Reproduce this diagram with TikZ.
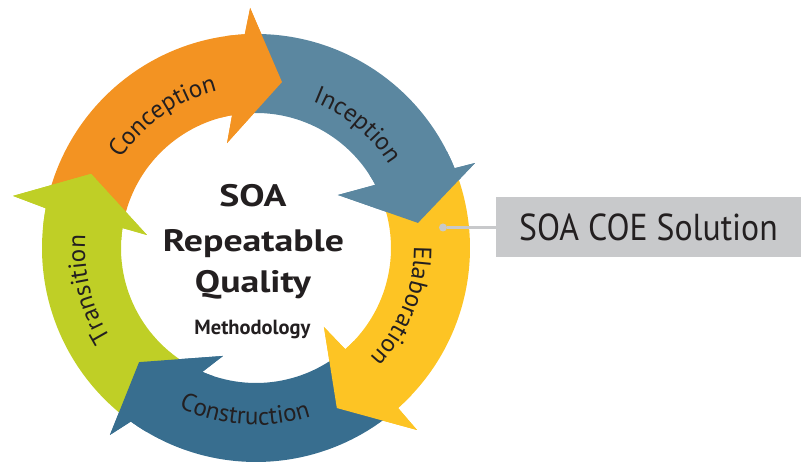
\documentclass[tikz,border=0pt]{standalone}
\usepackage{fontspec}
\setmainfont{PT Sans}
\newfontfamily\titlefont{PT Sans}[FakeStretch=1.22]
\newfontfamily\boxfont{PT Sans}[FakeStretch=0.9]
\usetikzlibrary{decorations.text}

\definecolor{conorange}{RGB}{243,147,34}
\definecolor{incblue}{RGB}{91,135,160}
\definecolor{elabyellow}{RGB}{253,196,36}
\definecolor{consblue}{RGB}{56,110,143}
\definecolor{transgreen}{RGB}{191,207,38}
\definecolor{boxgray}{RGB}{200,201,203}
\definecolor{inkgray}{RGB}{35,31,32}

\newcommand{\arcfont}{\fontsize{25}{25}\selectfont}
\def\phaselist{conorange/169.3/171.5/93.0/100.2/91.4/240.1/81.1/168.0/105.4/108.9,
  incblue/93.0/100.2/21.9/27.9/21.2/234.9/8.8/163.9/32.9/97.6,
  elabyellow/21.9/27.9/-48.4/-48.6/-48.5/243.0/-63.2/179.3/-49.3/104.2,
  consblue/-48.4/-48.6/-125.8/-113.4/-128.0/237.2/-135.7/163.4/-107.0/112.9,
  transgreen/-125.8/-113.4/-190.7/-188.5/-192.1/248.5/-204.2/180.8/-186.8/109.8}

\begin{document}
\begin{tikzpicture}[x=1pt, y=1pt,
  title/.style={font=\titlefont\bfseries\fontsize{31}{31}\selectfont, text=inkgray, anchor=base, inner sep=0},
  arctext/.style={decorate, decoration={text along path, text align=center, text color=inkgray}},
  coebox/.style={fill=boxgray, minimum width=305, minimum height=60, inner sep=0,
    font=\boxfont\fontsize{37.5}{37.5}\selectfont, text=inkgray},
  pin/.style={circle, fill=boxgray, minimum size=8, inner sep=0},
  leader/.style={boxgray, line width=2.5}]
\useasboundingbox (-256,-214) rectangle (545,248);

\foreach \col/\so/\si/\oj/\ij/\ob/\obr/\tp/\tpr/\ib/\ibr in \phaselist
  \fill[\col] (\so:214) arc[start angle=\so, end angle=\oj, radius=214]
    -- (\ob:\obr) -- (\tp:\tpr) -- (\ib:\ibr) -- (\ij:135)
    arc[start angle=\ij, end angle=\si, radius=135] -- cycle;
\foreach \col/\so/\si/\oj/\ij/\ob/\obr/\tp/\tpr/\ib/\ibr
  [evaluate=\oj as \ojb using \oj+5, evaluate=\ij as \ijb using \ij+5] in \phaselist
  \fill[\col] (\ojb:214) arc[start angle=\ojb, end angle=\oj, radius=214]
    -- (\ob:\obr) -- (\tp:\tpr) -- (\ib:\ibr) -- (\ij:135)
    arc[start angle=\ij, end angle=\ijb, radius=135] -- cycle;

\path[arctext, decoration={text={|\arcfont|Conception}}]
  (175.2:162) arc[start angle=175.2, end angle=75.2, radius=162];
\path[arctext, decoration={text={|\arcfont|Inception}}]
  (100.5:157) arc[start angle=100.5, end angle=0.5, radius=157];
\path[arctext, decoration={text={|\arcfont|Elaboration}}]
  (28.3:158) arc[start angle=28.3, end angle=-71.7, radius=158];
\path[arctext, decoration={text={|\arcfont|Construction}}]
  (-143.9:177) arc[start angle=-143.9, end angle=-43.9, radius=177];
\path[arctext, decoration={text={|\arcfont|Transition}}]
  (243.8:171) arc[start angle=243.8, end angle=143.8, radius=171];

\path (-3,41) node[title] (soa) {SOA};
\path (-2.5,-4) node[title] (repeat) {Repeatable};
\path (-3,-45) node[title] (quality) {Quality};
\path (-3.5,-87) node[title, font=\bfseries\fontsize{20.5}{20.5}\selectfont] (method) {Methodology};

\path (392.5,20.5) node[coebox] (coe) {SOA COE Solution};
\path (187,20.5) node[pin] (dot) {};
\draw[leader] (dot) -- (coe);
\end{tikzpicture}
\end{document}
